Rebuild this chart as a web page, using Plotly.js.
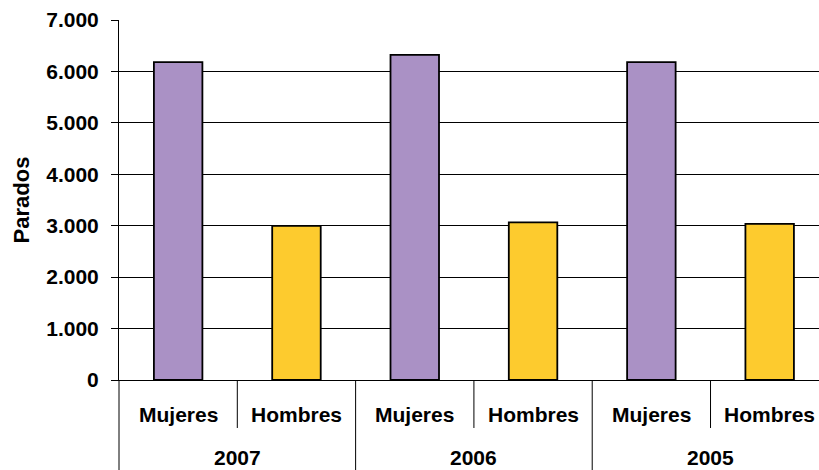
<!DOCTYPE html>
<html>
<head>
<meta charset="utf-8">
<script src="https://cdn.plot.ly/plotly-3.0.1.min.js"></script>
<style>html,body{margin:0;padding:0;background:#fff;}#chart{width:819px;height:470px;}</style>
</head>
<body>
<div id="chart"></div>
<script>
const years = ['2007', '2006', '2005'];
const sexes = ['Mujeres', 'Hombres'];
const mujeres = [6180, 6320, 6180];
const hombres = [2995, 3065, 3035];
const yTitle = 'Parados';

const FONT = {family: 'Liberation Sans, Arial, sans-serif', size: 21, color: '#000', weight: 'bold'};

const xM = years.map((y, i) => 2 * i);
const xH = years.map((y, i) => 2 * i + 1);

const traces = [
  {type: 'bar', x: xM, y: mujeres, width: 0.41, name: sexes[0],
   marker: {color: '#AA91C5', line: {color: '#000', width: 1.8}}, hoverinfo: 'skip'},
  {type: 'bar', x: xH, y: hombres, width: 0.41, name: sexes[1],
   marker: {color: '#FDCB2E', line: {color: '#000', width: 1.8}}, hoverinfo: 'skip'}
];

const annotations = [];
const shapes = [];
years.forEach((yr, i) => {
  sexes.forEach((s, j) => {
    annotations.push({x: 2 * i + j, y: -0.096, xref: 'x', yref: 'paper', text: s,
      showarrow: false, xanchor: 'center', yanchor: 'middle', font: FONT});
  });
  annotations.push({x: 2 * i + 0.5, y: -0.25, xref: 'x', yref: 'paper', text: yr,
    showarrow: false, xanchor: 'center', yanchor: 'bottom', borderpad: 0, font: FONT});
  // short divider between sub-categories
  shapes.push({type: 'line', xref: 'x', yref: 'paper', x0: 2 * i + 0.5, x1: 2 * i + 0.5,
    y0: 0, y1: -0.1333, line: {color: '#000', width: 1}});
  // long divider between groups
  if (i > 0) {
    shapes.push({type: 'line', xref: 'x', yref: 'paper', x0: 2 * i - 0.5, x1: 2 * i - 0.5,
      y0: 0, y1: -0.26, line: {color: '#000', width: 1}});
  }
});
shapes.push({type: 'line', xref: 'paper', yref: 'paper', x0: 0, x1: 0,
  y0: 0, y1: -0.26, line: {color: '#000', width: 1}});

const layout = {
  width: 819, height: 470,
  margin: {l: 119, r: 0, t: 20, b: 90},
  paper_bgcolor: '#fff', plot_bgcolor: '#fff',
  separators: ',.',
  font: FONT,
  showlegend: false,
  bargap: 0,
  xaxis: {type: 'linear', range: [-0.5, 5.417], showticklabels: false, ticks: '',
    showgrid: false, zeroline: false, showline: true, linecolor: '#000', linewidth: 1, fixedrange: true},
  yaxis: {range: [0, 7000], dtick: 1000, tickformat: ',d', ticks: 'outside', ticklen: 7,
    tickcolor: '#000', tickwidth: 1, showline: true, linecolor: '#000', linewidth: 1,
    showgrid: true, gridcolor: '#000', gridwidth: 1, zeroline: false,
    ticklabelstandoff: 8, tickfont: FONT,
    title: {text: yTitle, font: {family: FONT.family, size: 22, color: '#000', weight: 'bold'}, standoff: 10},
    fixedrange: true},
  annotations: annotations,
  shapes: shapes
};

Plotly.newPlot('chart', traces, layout, {displayModeBar: false, staticPlot: true});
</script>
</body>
</html>
